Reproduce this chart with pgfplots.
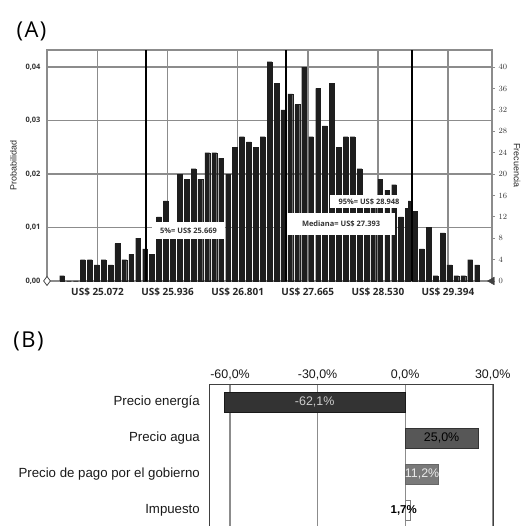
\documentclass[border=0pt]{standalone}
\usepackage{fontspec}
\setmainfont{Liberation Sans}
\newfontfamily\opensans{Open Sans}
\usepackage{pgfplots}
\pgfplotsset{compat=1.18}
\definecolor{gridc}{HTML}{8C8C8C}
\definecolor{barc}{HTML}{1E1E1E}
\begin{document}
\begin{tikzpicture}[x=1bp,y=1bp]
\useasboundingbox (0,0) rectangle (523,526);
% panel labels
\node[font=\opensans\fontsize{22}{22}\selectfont, anchor=center] at (31.5,495) {(\kern1.5pt A\kern1.5pt)};
\node[font=\opensans\fontsize{22}{22}\selectfont, anchor=center] at (28.5,185) {(\kern1.5pt B\kern1.5pt)};
% ---------- Panel A: left axis (probability) ----------
\begin{axis}[
  at={(47bp,245bp)}, anchor=south west, scale only axis,
  width=445bp, height=231bp,
  xmin=24.449, xmax=29.937, ymin=0, ymax=0.0432,
  scaled y ticks=false,
  xtick={25.072,25.936,26.801,27.665,28.530,29.394},
  xticklabels={US\$ 25.072,US\$ 25.936,US\$ 26.801,US\$ 27.665,US\$ 28.530,US\$ 29.394},
  ytick={0,0.01,0.02,0.03,0.04},
  yticklabels={{0,00},{0,01},{0,02},{0,03},{0,04}},
  ytick pos=left, xtick pos=bottom,
  major tick length=0pt,
  grid=major,
  grid style={gridc, line width=1.5bp},
  axis line style={gridc, line width=1.2bp},
  xticklabel style={font=\opensans\bfseries\fontsize{10}{10}\selectfont, text=black!85, yshift=-3bp},
  yticklabel style={font=\opensans\bfseries\fontsize{7.5}{7.5}\selectfont, text=black!80, xshift=-3bp},
  ylabel={Probabilidad},
  ylabel style={font=\fontsize{9}{9}\selectfont, text=black!85, yshift=2bp},
]
\addplot[draw=none] coordinates {(25,0)};
\end{axis}
% ---------- Panel A: right axis (frequency) with bars ----------
\begin{axis}[
  at={(47bp,245bp)}, anchor=south west, scale only axis,
  width=445bp, height=231bp,
  xmin=24.449, xmax=29.937, ymin=0, ymax=43.2,
  axis x line=none,
  axis y line*=right,
  ytick={0,4,...,40},
  tick align=outside, major tick length=3bp,
  ytick style={gridc, line width=0.8bp},
  axis line style={gridc, line width=1.2bp},
  yticklabel style={font=\opensans\bfseries\fontsize{8}{8}\selectfont, text=black!80},
  ylabel={Frecuencia},
  ylabel style={font=\fontsize{9}{9}\selectfont, text=black!85, rotate=180},
  clip=false,
]
\addplot[ybar, bar width=4.8bp, bar shift=0pt, fill=barc, draw=barc, line width=0.2bp] coordinates {
(24.634,1) (24.720,0) (24.805,0) (24.890,4) (24.975,4) (25.061,3) (25.146,4) (25.231,3)
(25.317,7) (25.402,4) (25.487,5) (25.573,8) (25.658,6) (25.743,5) (25.829,12) (25.914,15)
(25.999,11) (26.085,20) (26.170,19) (26.255,21) (26.340,19) (26.426,24) (26.511,24) (26.596,23)
(26.682,20) (26.767,25) (26.852,27) (26.938,26) (27.023,25) (27.108,27) (27.193,41) (27.279,37)
(27.364,32) (27.449,35) (27.535,33) (27.620,40) (27.705,27) (27.791,36) (27.876,29) (27.961,37)
(28.046,25) (28.132,27) (28.217,27) (28.302,21) (28.388,16) (28.473,15) (28.558,19) (28.644,17)
(28.729,18) (28.814,12) (28.899,15) (28.985,13) (29.070,6) (29.155,10) (29.241,1) (29.326,9)
(29.411,3) (29.497,1) (29.582,1) (29.667,4) (29.753,3)
};
% percentile lines
\addplot[black, line width=2bp] coordinates {(25.669,0) (25.669,43.2)};
\addplot[black, line width=2bp] coordinates {(27.393,0) (27.393,43.2)};
\addplot[black, line width=2bp] coordinates {(28.948,0) (28.948,43.2)};
% slider markers
\addplot[only marks, mark=diamond*, mark size=4.5bp, mark options={fill=white, draw=black!70, line width=0.8bp}] coordinates {(24.449,0)};
\addplot[only marks, mark=triangle*, mark size=4.5bp, mark options={rotate=90, fill=black!75, draw=black!75}] coordinates {(29.937,0)};
% labels
\node[fill=white, inner sep=0pt, minimum width=73bp, minimum height=17bp, font=\opensans\bfseries\fontsize{7.5}{7.5}\selectfont, text=black!80] at (axis cs:26.194,9.35) {5\%= US\$ 25.669};
\node[fill=white, inner sep=0pt, minimum width=108bp, minimum height=22bp, font=\opensans\bfseries\fontsize{7.5}{7.5}\selectfont, text=black!80] at (axis cs:28.075,10.65) {Mediana= US\$ 27.393};
\node[fill=white, inner sep=0pt, minimum width=78bp, minimum height=13bp, font=\opensans\bfseries\fontsize{7.5}{7.5}\selectfont, text=black!80] at (axis cs:28.420,14.86) {95\%= US\$ 28.948};
\end{axis}
% ---------- Panel B: tornado ----------
\begin{axis}[
  at={(209.3bp,141.7bp)}, anchor=north west, scale only axis,
  width=284bp, height=147.4bp,
  xbar, bar shift=0pt, bar width=20bp,
  xmin=-67.1, xmax=30.2, ymin=-0.482, ymax=3.6, y dir=reverse,
  xtick={-60,-30,0,30},
  xticklabels={{-60,0\%},{-30,0\%},{0,0\%},{30,0\%}},
  xticklabel pos=upper,
  ytick={0,1,2,3},
  yticklabels={Precio energía,Precio agua,Precio de pago por el gobierno,Impuesto},
  major tick length=0pt,
  xmajorgrids, grid style={gridc, line width=1.3bp},
  axis line style={black!75, line width=1bp},
  xticklabel style={font=\fontsize{12.5}{12.5}\selectfont, text=black!90, yshift=1bp},
  yticklabel style={font=\fontsize{13.3}{13.3}\selectfont, text=black!90, xshift=-6bp},
]
\addplot[fill=black!80, draw=black!90] coordinates {(-62.1,0)};
\addplot[fill=black!66, draw=black!80] coordinates {(25.0,1)};
\addplot[fill=black!52, draw=black!60] coordinates {(11.2,2)};
\addplot[fill=white, draw=black!50] coordinates {(1.7,3)};
\node[font=\fontsize{12.5}{12.5}\selectfont, text=black!20] at (axis cs:-31,0) {-62,1\%};
\node[font=\fontsize{12.5}{12.5}\selectfont, text=black] at (axis cs:12.5,1) {25,0\%};
\node[font=\fontsize{12.5}{12.5}\selectfont, text=black!8] at (axis cs:5.8,2) {11,2\%};
\node[font=\bfseries\fontsize{11.5}{11.5}\selectfont, text=black] at (axis cs:-0.5,3) {1,7\%};
\end{axis}
\end{tikzpicture}
\end{document}
